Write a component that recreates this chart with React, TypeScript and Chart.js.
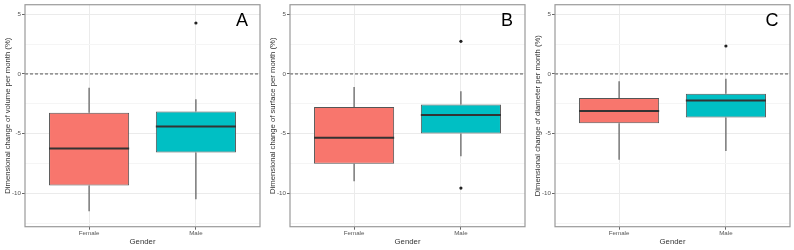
import React, { useEffect, useRef } from "react";
import { Chart, registerables } from "chart.js";

Chart.register(...registerables);

// Groups on the x axis
const categories = ["Female", "Male"];

// Five-number summaries per group: [lower whisker, Q1, median, Q3, upper whisker]
const volumeFemale = [-11.5, -9.35, -6.25, -3.25, -1.15];
const volumeMale = [-10.5, -6.58, -4.4, -3.14, -2.12];
const volumeOutliers = [{ gender: "Male", value: 4.27 }];

const surfaceFemale = [-9.0, -7.52, -5.34, -2.78, -1.1];
const surfaceMale = [-6.9, -5.0, -3.44, -2.56, -1.46];
const surfaceOutliers = [
  { gender: "Male", value: 2.73 },
  { gender: "Male", value: -9.56 },
];

const diameterFemale = [-7.2, -4.13, -3.11, -2.01, -0.61];
const diameterMale = [-6.45, -3.64, -2.23, -1.65, -0.41];
const diameterOutliers = [{ gender: "Male", value: 2.34 }];

// Y axis: major ticks every 5, minor grid every 2.5
const yTicks = [-12.5, -10, -7.5, -5, -2.5, 0, 2.5, 5];
const yMin = -12.8;
const yMax = 5.8;

const groupColors = ["#F8766D", "#00BFC4"];
const FONT = "'Liberation Sans', Arial, sans-serif";

type Outlier = { gender: string; value: number };

type PanelProps = {
  letter: string;
  yTitle: string;
  stats: number[][];
  outliers: Outlier[];
  left: number;
  width: number;
  padRight: number;
};

function makeBoxPlugin(stats: number[][], letter: string) {
  return {
    id: "boxParts",
    beforeDatasetsDraw(chart: any) {
      const { ctx, chartArea, scales } = chart;
      const x = scales.x;
      const y = scales.y;
      ctx.save();
      // dashed reference line at zero
      const y0 = y.getPixelForValue(0);
      ctx.strokeStyle = "#555";
      ctx.lineWidth = 1;
      ctx.setLineDash([3, 2]);
      ctx.beginPath();
      ctx.moveTo(chartArea.left, y0);
      ctx.lineTo(chartArea.right, y0);
      ctx.stroke();
      ctx.setLineDash([]);
      // whiskers
      ctx.strokeStyle = "#5a5a5a";
      ctx.lineWidth = 1.2;
      stats.forEach((s, i) => {
        const px = x.getPixelForValue(i + 1);
        ctx.beginPath();
        ctx.moveTo(px, y.getPixelForValue(s[0]));
        ctx.lineTo(px, y.getPixelForValue(s[1]));
        ctx.moveTo(px, y.getPixelForValue(s[3]));
        ctx.lineTo(px, y.getPixelForValue(s[4]));
        ctx.stroke();
      });
      ctx.restore();
    },
    afterDatasetsDraw(chart: any) {
      const { ctx, scales } = chart;
      const y = scales.y;
      const meta = chart.getDatasetMeta(0);
      ctx.save();
      ctx.strokeStyle = "#333";
      ctx.lineWidth = 2;
      meta.data.forEach((bar: any, i: number) => {
        const { x: cx, width } = bar.getProps(["x", "width"], true);
        const py = y.getPixelForValue(stats[i][2]);
        ctx.beginPath();
        ctx.moveTo(cx - width / 2, py);
        ctx.lineTo(cx + width / 2, py);
        ctx.stroke();
      });
      ctx.restore();
    },
    afterDraw(chart: any) {
      const { ctx, chartArea } = chart;
      ctx.save();
      // panel border
      ctx.strokeStyle = "#9a9a9a";
      ctx.lineWidth = 1.2;
      ctx.strokeRect(
        chartArea.left,
        chartArea.top,
        chartArea.right - chartArea.left,
        chartArea.bottom - chartArea.top
      );
      // panel letter
      ctx.fillStyle = "#000";
      ctx.font = `18px ${FONT}`;
      ctx.textAlign = "center";
      ctx.textBaseline = "middle";
      ctx.fillText(letter, chartArea.right - 18, chartArea.top + 16);
      ctx.restore();
    },
  };
}

function Panel({ letter, yTitle, stats, outliers, left, width, padRight }: PanelProps) {
  const ref = useRef<HTMLCanvasElement | null>(null);

  useEffect(() => {
    if (!ref.current) return;
    const chart = new Chart(ref.current, {
      type: "bar",
      data: {
        datasets: [
          {
            type: "bar",
            data: categories.map((_, i) => ({ x: i + 1, y: [stats[i][1], stats[i][3]] })) as any,
            backgroundColor: groupColors,
            borderColor: "#555",
            borderWidth: 1,
            borderSkipped: false,
            barPercentage: 0.75,
            categoryPercentage: 1,
          } as any,
          {
            type: "scatter",
            data: outliers.map((o) => ({ x: categories.indexOf(o.gender) + 1, y: o.value })),
            pointRadius: 1.6,
            pointBackgroundColor: "#222",
            pointBorderWidth: 0,
          } as any,
        ],
      },
      options: {
        animation: false,
        responsive: false,
        devicePixelRatio: 1,
        events: [],
        layout: { padding: { top: 1.7, right: padRight, bottom: 0, left: 0 } },
        plugins: {
          legend: { display: false },
          tooltip: { enabled: false },
        },
        scales: {
          x: {
            type: "linear",
            min: 0.4,
            max: 2.6,
            offset: false,
            afterBuildTicks: (s: any) => {
              s.ticks = categories.map((_, i) => ({ value: i + 1 }));
            },
            afterFit: (s: any) => {
              s.height = 23.3;
            },
            grid: {
              offset: false,
              color: "#ebebeb",
              lineWidth: 1,
              drawTicks: true,
              tickLength: 3,
              tickColor: "#666",
            },
            border: { display: false },
            ticks: {
              autoSkip: false,
              maxRotation: 0,
              padding: 0,
              color: "#555",
              font: { family: FONT, size: 6.2 },
              callback: (v: any) => categories[Number(v) - 1] ?? "",
            },
            title: {
              display: true,
              text: "Gender",
              color: "#333",
              font: { family: FONT, size: 7.8 },
              padding: { top: 0, bottom: 3.5 },
            },
          },
          y: {
            type: "linear",
            min: yMin,
            max: yMax,
            afterBuildTicks: (s: any) => {
              s.ticks = yTicks.map((v) => ({ value: v }));
            },
            afterFit: (s: any) => {
              s.width = 25;
            },
            grid: {
              color: (c: any) => (c.tick && c.tick.value % 5 === 0 ? "#ebebeb" : "#f5f5f5"),
              lineWidth: 1,
              drawTicks: true,
              tickLength: 3,
              tickColor: (c: any) => (c.tick && c.tick.value % 5 === 0 ? "#666" : "rgba(0,0,0,0)"),
            },
            border: { display: false },
            ticks: {
              autoSkip: false,
              padding: 1,
              color: "#555",
              font: { family: FONT, size: 6.2 },
              callback: (v: any) => (Number(v) % 5 === 0 ? String(v) : ""),
            },
            title: {
              display: true,
              text: yTitle,
              color: "#333",
              font: { family: FONT, size: 7.7 },
              padding: { top: 3, bottom: 0 },
            },
          },
        },
      } as any,
      plugins: [makeBoxPlugin(stats, letter)],
    });
    return () => chart.destroy();
  }, [letter, yTitle, stats, outliers, padRight]);

  return (
    <canvas
      ref={ref}
      width={width}
      height={250}
      style={{ position: "absolute", left, top: 0, width, height: 250 }}
    />
  );
}

export default function App() {
  return (
    <div
      style={{
        position: "absolute",
        left: 0,
        top: 0,
        width: 794,
        height: 250,
        overflow: "hidden",
        background: "#fff",
      }}
    >
      <Panel
        letter="A"
        yTitle="Dimensional change of volume per month (%)"
        stats={[volumeFemale, volumeMale]}
        outliers={volumeOutliers}
        left={0}
        width={265}
        padRight={5}
      />
      <Panel
        letter="B"
        yTitle="Dimensional change of surface per month (%)"
        stats={[surfaceFemale, surfaceMale]}
        outliers={surfaceOutliers}
        left={265}
        width={265}
        padRight={5}
      />
      <Panel
        letter="C"
        yTitle="Dimensional change of diameter per month (%)"
        stats={[diameterFemale, diameterMale]}
        outliers={diameterOutliers}
        left={530}
        width={264}
        padRight={4}
      />
    </div>
  );
}
